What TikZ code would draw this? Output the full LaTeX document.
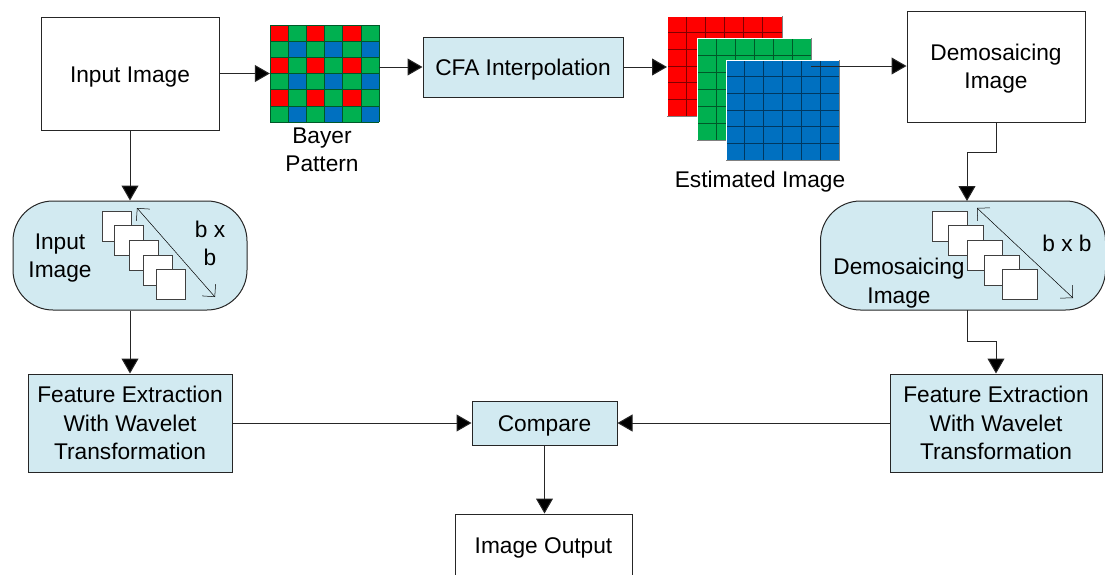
\documentclass[tikz,border=0pt]{standalone}
\usepackage{fontspec}
\setmainfont{Liberation Sans}
\usetikzlibrary{arrows.meta}
\definecolor{paleblue}{RGB}{210,234,241}
\definecolor{cfared}{RGB}{255,0,0}
\definecolor{cfagreen}{RGB}{0,176,80}
\definecolor{cfablue}{RGB}{0,112,192}
\tikzset{
  box/.style={draw=black!85, line width=1pt, minimum width=#1, inner sep=0pt, align=center, font=\fontsize{22.7}{28.5}\selectfont},
  plainbox/.style={box=#1, fill=white},
  tintbox/.style={box=#1, fill=paleblue},
  pill/.style={box=#1, fill=paleblue, rounded corners=40pt},
  tag/.style={inner sep=0pt, align=center, font=\fontsize{22.7}{28.5}\selectfont},
  sheet/.style={draw=black!75, fill=white, line width=1pt, minimum width=#1, minimum height=30pt, inner sep=0pt},
  flow/.style={draw=black!85, line width=1pt, -{Triangle[length=15pt,width=17pt,fill=black]}},
  span/.style={line width=.5pt, {Straight Barb[length=9pt,width=18pt]}-{Straight Barb[length=9pt,width=18pt]}}
}
\newcommand{\layer}[6]{% x, y, width, height, fill, name
  \fill[#5] (#1,#2) rectangle ++(#3,#4);
  \foreach \k in {1,...,5} {
    \draw[black!50!#5, line width=1pt] ({#1+\k*#3/6},#2) -- ++(0,#4);
    \draw[black!50!#5, line width=1pt] (#1,{#2+\k*#4/6}) -- ++(#3,0);
  }
  \draw[white, line width=1pt] (#1,#2+#4) -- (#1,#2) -- (#1+#3,#2);
  \draw[black!50, line width=1pt] (#1+#3,#2) -- (#1+#3,#2+#4) -- (#1,#2+#4);
  \coordinate (#6) at (#1+#3/2,#2+#4/2);
}
\begin{document}
\begin{tikzpicture}[x=1pt,y=-1pt]
\useasboundingbox (0,0) rectangle (1105,574);

\node[plainbox=178pt, minimum height=113pt, text height=23pt] (inputbox) at (130,73.5) {Input Image};
\node[tintbox=200pt, minimum height=60pt, text height=21pt] (cfa) at (523,67) {CFA Interpolation};
\node[plainbox=178pt, minimum height=111pt, text height=49.5pt] (demobox) at (996,66.5) {Demosaicing\\Image};

% bayer pattern
\foreach \r in {0,...,5} {
  \foreach \c in {0,...,5} {
    \pgfmathtruncatemacro{\v}{mod(\r,2)*2+mod(\c,2)}
    \ifnum\v=0 \def\cellcol{cfared}\fi
    \ifnum\v=1 \def\cellcol{cfagreen}\fi
    \ifnum\v=2 \def\cellcol{cfagreen}\fi
    \ifnum\v=3 \def\cellcol{cfablue}\fi
    \fill[\cellcol] ({270+\c*18.17},{25+\r*16.17}) rectangle ++(18.17,16.17);
  }
}
\foreach \k in {0,...,6} {
  \draw[black!50!cfagreen, line width=.7pt] ({270+\k*18.17},25) -- ++(0,97);
  \draw[black!50!cfagreen, line width=.7pt] (270,{25+\k*16.17}) -- ++(109,0);
}
\node[minimum width=109pt, minimum height=97pt, inner sep=0pt] (bayer) at (324.5,73.5) {};
\node[tag] (bayertag) at (322,150) {Bayer\\Pattern};

% estimated image
\layer{667}{16}{115}{100}{cfared}{redlayer}
\layer{697}{38}{114}{102}{cfagreen}{greenlayer}
\layer{726}{60}{113}{100}{cfablue}{bluelayer}
\node[tag] (esttag) at (760,182) {Estimated Image};
\coordinate (estin) at (667,66);
\coordinate (estout) at (811,66);

\node[pill=234pt, minimum height=109pt] (leftpill) at (130,255.5) {};
\node[pill=285pt, minimum height=109pt] (rightpill) at (963,255.5) {};

% left stack
\foreach \x/\y/\n in {116.5/226/la,129/240.5/lb,144/255.5/lc,158/270.5/ld,171/284.5/le} {
  \node[sheet=29pt] (\n) at (\x,\y) {};
}
\node[tag] (lefttag) at (60,258) {Input\\Image};
\node[tag] (leftsize) at (210,243.5) {b x\\b};
\coordinate (lspana) at (137,208);
\coordinate (lspanb) at (215,297);
\draw[span] (lspana) -- (lspanb);

% right stack
\foreach \x/\y/\n in {949.5/226/ra,966/240.5/rb,985/255.5/rc,1001.5/270.5/rd,1020/284.5/re} {
  \node[sheet=35pt] (\n) at (\x,\y) {};
}
\node[tag] (righttag) at (899,283) {Demosaicing\\Image};
\node[tag] (rightsize) at (1067,243) {b x b};
\coordinate (rspana) at (977,208);
\coordinate (rspanb) at (1073,298);
\draw[span] (rspana) -- (rspanb);

\node[tintbox=204pt, minimum height=98pt] (leftfeat) at (130,423) {Feature Extraction\\With Wavelet\\Transformation};
\node[tintbox=212pt, minimum height=98pt] (rightfeat) at (996,423) {Feature Extraction\\With Wavelet\\Transformation};
\node[tintbox=145pt, minimum height=44pt, text height=21pt] (compare) at (544.5,423) {Compare};
\node[plainbox=177pt, minimum height=62pt, text height=22pt] (output) at (543.5,545) {Image Output};

\draw[flow] (inputbox.east) -- (inputbox.east -| bayer.west);
\draw[flow] (bayer.east |- cfa.west) -- (cfa.west);
\draw[flow] (cfa.east) -- (cfa.east -| estin);
\draw[flow] (estout) -- (estout -| demobox.west);
\draw[flow] (inputbox.south) -- (leftpill.north);
\draw[flow] (demobox.south) -- ++(0,30) -| (967,201);
\draw[flow] (leftpill.south) -- (leftfeat.north);
\draw[flow] (967,310) -- ++(0,31) -| (rightfeat.north);
\draw[flow] (leftfeat.east |- compare.west) -- (compare.west);
\draw[flow] (rightfeat.west |- compare.east) -- (compare.east);
\draw[flow] (compare.south) -- (compare.south |- output.north);
\end{tikzpicture}
\end{document}
